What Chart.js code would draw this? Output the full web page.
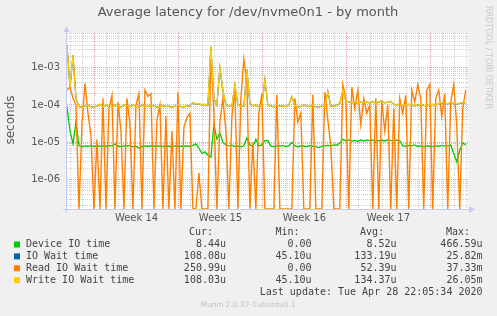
<!DOCTYPE html>
<html>
<head>
<meta charset="utf-8">
<script src="https://cdn.jsdelivr.net/npm/chart.js@4/dist/chart.umd.min.js"></script>
<style>
html,body{margin:0;padding:0;background:#f0f0f0;}
canvas{display:block;}
</style>
</head>
<body>
<canvas id="c" width="497" height="316" style="width:497px;height:316px"></canvas>
<script>
// ---- data (values in microseconds; 0 = zero latency) ----
const sampleStartDay = -2.3;   // days relative to Mon 30 Mar 2020 00:00
const sampleStepDays = 0.25;

const deviceIO = [
 90,20,9,35,8,7.5,8,7.8,8.2,7.6,8,7.8,8,7.7,8.1,7.9,9,7.8,7.6,8,7.9,8.2,7.5,7.8,7,7.6,8,7.7,8.1,7.8,7.9,8,7.6,7.9,
 7.8,7.5,8,7.7,7.9,7.8,8,7.7,8.2,9,7,5,5.5,4.5,4,30,12,18,10,8.5,8,8.3,7.6,8,7.5,8,13,8.5,7.8,12,8,8.5,11,
 11,7.8,7.5,8,7.8,8.2,7.6,8,10,8,7.5,8,7.8,7.6,8.1,7.9,7.6,7.2,7.8,8,8.2,8,8.5,8.3,9.5,12,11,11.5,10.8,11.2,10.5,11.5,10.8,11.5,
 11,11.5,10.5,11,11.3,10.8,11.5,11.2,11,11.4,11,8,7.8,8.2,8,8.5,7.8,8,7.5,8,7.8,7.6,8,7.8,8.2,7.9,8,8.4,5,3,6,9.5,8.5
];
const writeIOWait = [
 4000,300,2200,150,90,85,95,100,90,85,95,105,90,100,95,88,100,92,85,100,95,90,100,92,88,100,95,90,100,95,88,92,98,90,
 92,85,95,100,90,88,95,92,115,105,110,100,105,100,3700,150,100,1000,250,100,95,90,350,100,95,90,900,110,95,100,88,92,480,
 100,95,88,100,92,95,90,100,170,95,85,90,100,95,90,100,88,85,95,90,230,95,92,100,110,250,130,120,115,125,110,120,115,120,
 115,125,110,120,130,115,120,125,105,100,110,95,100,105,100,95,100,102,98,95,100,105,100,110,115,112,108,115,110,105,112,115,108
];
const ioWait = [
 3950,290,2150,148,91,86,94,99,91,86,94,104,91,99,94,89,99,93,86,99,94,91,99,93,89,99,94,91,99,94,89,93,97,91,
 93,86,94,99,91,89,94,93,114,104,109,99,104,99,3650,148,99,990,245,99,94,91,345,99,94,91,890,109,94,99,89,93,475,
 99,94,89,99,93,94,91,99,168,94,86,91,99,94,91,99,89,86,94,91,228,94,93,99,109,248,129,119,114,124,109,119,114,119,
 114,124,109,119,129,114,119,124,104,99,109,94,99,104,99,94,99,101,97,94,99,104,99,109,114,111,107,114,109,104,111,114,108
];
const readIOWait = [
 250,300,150,100,0,30,380,60,15,0,12,0,150,0,80,180,0,120,20,0,150,30,0,100,200,0,250,170,200,0,40,100,0,50,
 0,20,0,220,0,25,45,60,0,0,1.5,0,0,0,3000,60,0,35,150,20,0,50,250,0,150,1700,400,0,10,0,60,200,0,
 0,0,0,190,0,0,0,0,0,150,35,60,0,0,0,190,0,0,0,220,40,8,0,0,0,350,150,0,300,80,250,30,150,60,
 100,0,150,0,130,20,100,0,80,0,150,60,180,0,250,120,350,150,0,250,350,0,150,250,50,200,0,120,350,30,0,80,250
];

const seriesNames = ['Device IO time','IO Wait time','Read IO Wait time','Write IO Wait time'];
const seriesColors = ['#00cc00','#0066b3','#ff8000','#ffcc00'];
const legendCur = ['8.44u','108.08u','250.99u','108.03u'];
const legendMin = ['0.00','45.10u','0.00','45.10u'];
const legendAvg = ['8.52u','133.19u','52.39u','134.37u'];
const legendMax = ['466.59u','25.82m','37.33m','26.05m'];

const weekLabels = ['Week 14','Week 15','Week 16','Week 17'];
const weekCenters = [3.5, 10.5, 17.5, 24.5];
const yMajorValues = [1e-6, 1e-5, 1e-4, 1e-3];
const yTickLabels = ['1e-06','1e-05','1e-04','1e-03'];

const titleText = 'Average latency for /dev/nvme0n1 - by month';
const lastUpdate = 'Last update: Tue Apr 28 22:05:34 2020';
const muninText = 'Munin 2.0.37-1ubuntu0.1';
const sideText = 'RRDTOOL / TOBI OETIKER';

const X_MIN = -2.3, X_MAX = 31.14, Y_MIN = 1.62e-7, Y_MAX = 8.5e-3;

// ---- build ----
// zero latency cannot sit on a log axis: it is drawn on the axis floor, as rrdtool does
function toPoints(arr){
  return arr.map((v,i)=>({x: sampleStartDay + i*sampleStepDays, y: v > 0 ? v*1e-6 : Y_MIN}));
}

const GRID_MINOR = 'rgba(200,200,200,0.85)';
const GRID_MAJOR = 'rgba(235,140,140,0.85)';
const AXIS_COL = '#c4cbf2';

const decor = {
  id:'decor',
  beforeDraw(chart){
    const {ctx, chartArea:a} = chart;
    ctx.save();
    ctx.fillStyle = '#f0f0f0';
    ctx.fillRect(0,0,chart.width,chart.height);
    ctx.fillStyle = '#ffffff';
    ctx.fillRect(a.left,a.top,a.right-a.left,a.bottom-a.top);
    ctx.restore();
  },
  afterDraw(chart){
    const {ctx, chartArea:a} = chart;
    ctx.save();
    // axis arrows
    ctx.fillStyle = AXIS_COL;
    ctx.beginPath();
    ctx.moveTo(a.right+1, a.bottom-3); ctx.lineTo(a.right+7, a.bottom+0.5); ctx.lineTo(a.right+1, a.bottom+4); ctx.closePath(); ctx.fill();
    ctx.beginPath();
    ctx.moveTo(a.left-3.5, a.top-1); ctx.lineTo(a.left-0.5, a.top-7); ctx.lineTo(a.left+2.5, a.top-1); ctx.closePath(); ctx.fill();
    ctx.strokeStyle = AXIS_COL; ctx.lineWidth = 1;
    ctx.beginPath(); ctx.moveTo(a.left-4, a.bottom+0.5); ctx.lineTo(a.right+1, a.bottom+0.5); ctx.stroke();
    ctx.beginPath(); ctx.moveTo(a.left-0.5, a.top-1); ctx.lineTo(a.left-0.5, a.bottom+4); ctx.stroke();

    // title
    ctx.fillStyle = '#555';
    ctx.font = '13px "DejaVu Sans"';
    ctx.textAlign = 'center'; ctx.textBaseline = 'middle';
    ctx.fillText(titleText, 248, 13);
    // y title
    ctx.save();
    ctx.translate(11, 120); ctx.rotate(-Math.PI/2);
    ctx.font = '12px "DejaVu Sans"';
    ctx.fillText('seconds', 0, 0);
    ctx.restore();
    // side text
    ctx.save();
    ctx.translate(488, 6); ctx.rotate(Math.PI/2);
    ctx.fillStyle = '#c8c8c8';
    ctx.font = '8px "DejaVu Sans"';
    ctx.textAlign = 'left';
    ctx.fillText(sideText, 0, 0);
    ctx.restore();

    // legend
    ctx.font = '10px "DejaVu Sans Mono"';
    ctx.fillStyle = '#444';
    ctx.textBaseline = 'middle';
    ctx.textAlign = 'right';
    ctx.fillText('Cur:', 213, 232.5);
    ctx.fillText('Min:', 299.5, 232.5);
    ctx.fillText('Avg:', 384, 232.5);
    ctx.fillText('Max:', 470, 232.5);
    for (let i=0;i<4;i++){
      const y = 244.5 + i*11.9;
      ctx.fillStyle = seriesColors[i];
      ctx.fillRect(14, y-3, 6, 6);
      ctx.fillStyle = '#444';
      ctx.textAlign = 'left';
      ctx.fillText(seriesNames[i], 26, y);
      ctx.textAlign = 'right';
      ctx.fillText(legendCur[i], 226, y);
      ctx.fillText(legendMin[i], 311.5, y);
      ctx.fillText(legendAvg[i], 396.5, y);
      ctx.fillText(legendMax[i], 482.5, y);
    }
    ctx.fillText(lastUpdate, 482.5, 292.5);
    ctx.textAlign = 'center';
    ctx.fillStyle = '#c0c0c0';
    ctx.font = '7.5px "DejaVu Sans"';
    ctx.fillText(muninText, 248, 305);
    ctx.restore();
  }
};

new Chart(document.getElementById('c'), {
  type:'line',
  data:{
    datasets:[
      {label:seriesNames[0], data:toPoints(deviceIO), borderColor:seriesColors[0], borderWidth:1.3, order:4},
      {label:seriesNames[1], data:toPoints(ioWait), borderColor:seriesColors[1], order:3},
      {label:seriesNames[2], data:toPoints(readIOWait), borderColor:seriesColors[2], borderWidth:1.4, order:2},
      {label:seriesNames[3], data:toPoints(writeIOWait), borderColor:seriesColors[3], borderWidth:1.3, order:1}
    ]
  },
  options:{
    responsive:false,
    devicePixelRatio:1,
    animation:false,
    events:[],
    elements:{ line:{borderWidth:1.2, tension:0, fill:false}, point:{radius:0} },
    layout:{ padding:{left:0, top:33, right:29, bottom:87} },
    plugins:{ legend:{display:false}, title:{display:false}, tooltip:{enabled:false} },
    scales:{
      x:{
        type:'linear', min:X_MIN, max:X_MAX,
        afterFit(s){ s.height = 20; },
        afterBuildTicks(s){
          const t = [];
          for (let d=Math.ceil(X_MIN); d<=Math.floor(X_MAX); d++) t.push(d);
          weekCenters.forEach(v=>t.push(v));
          t.sort((p,q)=>p-q);
          s.ticks = t.map(v=>({value:v}));
        },
        grid:{
          drawTicks:false,
          color(ctx){
            const v = ctx.tick ? ctx.tick.value : 0;
            if (!Number.isInteger(v)) return 'rgba(0,0,0,0)';
            return (v % 7 === 0) ? GRID_MAJOR : GRID_MINOR;
          },
          lineWidth:1
        },
        border:{display:false, dash:[1,1]},
        ticks:{
          autoSkip:false, maxRotation:0, padding:3,
          color:'#555', font:{family:'DejaVu Sans', size:10},
          callback(v){ const k = weekCenters.indexOf(v); return k>=0 ? weekLabels[k] : ''; }
        }
      },
      y:{
        type:'logarithmic', min:Y_MIN, max:Y_MAX,
        afterFit(s){ s.width = 67; },
        afterBuildTicks(s){
          const t = [];
          for (let e=-7;e<=-3;e++) for (let m=1;m<=9;m++){ const v = m*Math.pow(10,e); if (v>=Y_MIN && v<=Y_MAX) t.push({value:v}); }
          s.ticks = t;
        },
        grid:{
          drawTicks:false,
          color(ctx){
            const v = ctx.tick ? ctx.tick.value : 0;
            const l = Math.log10(v);
            return Math.abs(l-Math.round(l))<1e-9 ? GRID_MAJOR : GRID_MINOR;
          },
          lineWidth:1
        },
        border:{display:false, dash:[1,1]},
        ticks:{
          autoSkip:false, padding:7,
          color:'#555', font:{family:'DejaVu Sans', size:10},
          callback(v){
            for (let k=0;k<yMajorValues.length;k++) if (Math.abs(v/yMajorValues[k]-1)<1e-6) return yTickLabels[k];
            return '';
          }
        }
      }
    }
  },
  plugins:[decor]
});
</script>
</body>
</html>
